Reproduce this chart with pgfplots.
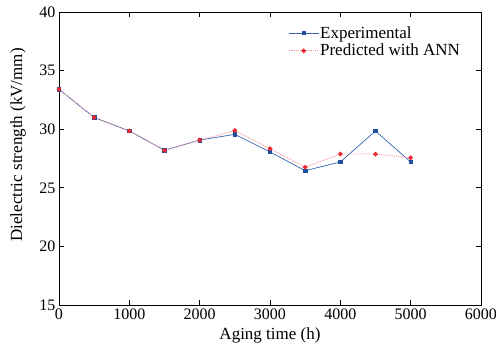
\documentclass[border=0pt]{standalone}
\usepackage{pgfplots}
\pgfplotsset{compat=1.18}
\usepackage{fontspec}
\setmainfont{Liberation Serif}
\definecolor{expblue}{RGB}{30,80,160}
\definecolor{linblue}{RGB}{50,100,180}
\definecolor{predred}{RGB}{232,40,50}
\definecolor{predline}{RGB}{245,150,155}
\begin{document}
\begin{tikzpicture}
\useasboundingbox (-59pt,-42pt) rectangle (437pt,305pt);
\begin{axis}[
  at={(0pt,0pt)}, anchor=south west,
  scale only axis, width=422pt, height=293pt,
  xmin=0, xmax=6000, ymin=15, ymax=40,
  xtick={0,1000,...,6000}, ytick={15,20,...,40},
  tick align=inside, major tick length=5pt,
  scaled x ticks=false,
  /pgf/number format/1000 sep={},
  /pgf/number format/assume math mode=true,
  tick label style={font=\fontsize{16}{18}\selectfont, black},
  xlabel={Aging time (h)}, ylabel={Dielectric strength (kV/mm)},
  xlabel style={font=\fontsize{17}{20}\selectfont, at={(axis description cs:0.5,-0.1024)}, anchor=center},
  ylabel style={font=\fontsize{17}{20}\selectfont, at={(axis description cs:-0.0972,0.546)}, anchor=center},
  axis line style={line width=0.9pt},
  every tick/.style={black, line width=0.6pt},
  legend style={draw=none, fill=none, at={(axis description cs:0.5427,0.955)}, anchor=north west,
    font=\fontsize{17}{20}\selectfont, row sep=2.5pt, inner sep=0pt,
    nodes={inner sep=1pt}},
  legend cell align=left,
  legend image code/.code={%
    \draw[mark repeat=2,mark phase=2,#1] plot coordinates {(0pt,0pt) (15pt,0pt) (30pt,0pt)};},
]
\addplot[linblue, line width=0.7pt, mark=square*, mark size=1.8pt,
  mark options={expblue, solid}] coordinates {
  (0,33.4) (500,31.0) (1000,29.85) (1500,28.2) (2000,29.07) (2500,29.56)
  (3000,28.06) (3500,26.46) (4000,27.2) (4500,29.85) (5000,27.2)};
\addlegendentry{Experimental}
\addplot[predline, densely dotted, line width=0.9pt, mark=*, mark size=1.9pt,
  mark options={predred, solid, draw=predred}] coordinates {
  (0,33.4) (500,31.0) (1000,29.85) (1500,28.2) (2000,29.07) (2500,29.88)
  (3000,28.34) (3500,26.75) (4000,27.88) (4500,27.88) (5000,27.56)};
\addlegendentry{Predicted with ANN}
\end{axis}
\end{tikzpicture}
\end{document}
